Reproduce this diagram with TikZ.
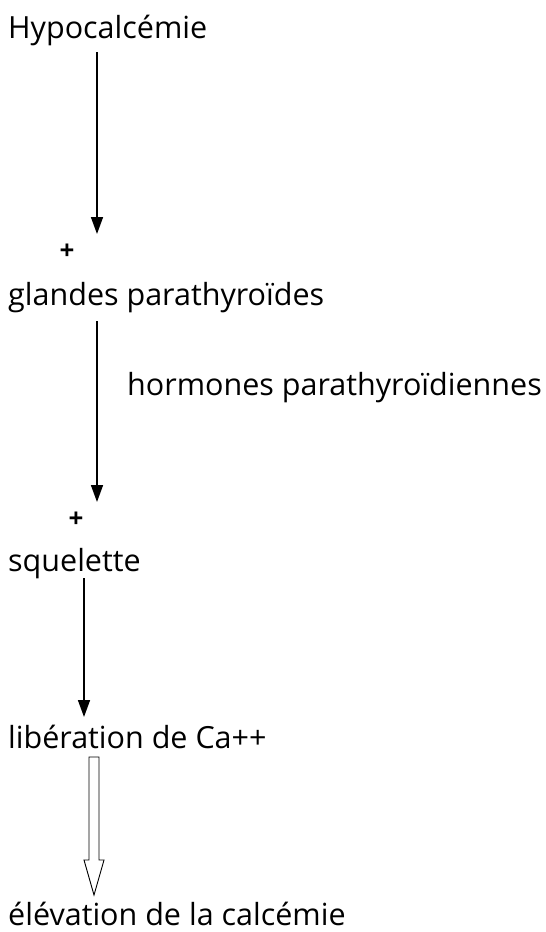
\documentclass[tikz,border=0pt]{standalone}
\usepackage{fontspec}
\setmainfont{Open Sans}
\usetikzlibrary{arrows.meta,calc}

\tikzset{
    texte/.style={anchor=base west, inner sep=0pt, font=\fontsize{30.5}{34}\selectfont},
    signe/.style={inner sep=0pt, font=\fontsize{26}{28}\selectfont\bfseries},
    fleche/.style={-{Triangle[width=12pt,length=17pt]}, line width=1.6pt},
    creux/.style={line width=0.9pt, line join=miter}
}

\begin{document}
\begin{tikzpicture}[x=1pt,y=-1pt]
    \useasboundingbox (0,0) rectangle (546,932);

    \node[texte] (hypo) at (8,38) {Hypocalcémie};
    \node[signe] (plus1) at (67,252) {+};
    \node[texte] (glandes) at (8,305) {glandes parathyroïdes};
    \node[texte] (hormones) at (127,395) {hormones parathyroïdiennes};
    \node[signe] (plus2) at (76,520) {+};
    \node[texte] (squelette) at (8,571) {squelette};
    \node[texte] (liberation) at (8,748) {libération de Ca++};
    \node[texte] (elevation) at (8,925) {élévation de la calcémie};

    \draw[fleche] ($(hypo.base west)+(89,14)$) -- ($(glandes.base west)+(89,-71)$);
    \draw[fleche] ($(glandes.base west)+(89,16)$) -- ($(squelette.base west)+(89,-69)$);
    \draw[fleche] ($(squelette.base west)+(76,7)$) -- ($(liberation.base west)+(76,-31)$);

    % fleche creuse
    \coordinate (creux1) at ($(liberation.base west)+(81,9)$);
    \draw[creux] (creux1) -- ++(10,0) -- ++(0,103) -- ++(5,0) -- ++(-10,35)
        -- ++(-10,-35) -- ++(5,0) -- cycle;
\end{tikzpicture}
\end{document}
